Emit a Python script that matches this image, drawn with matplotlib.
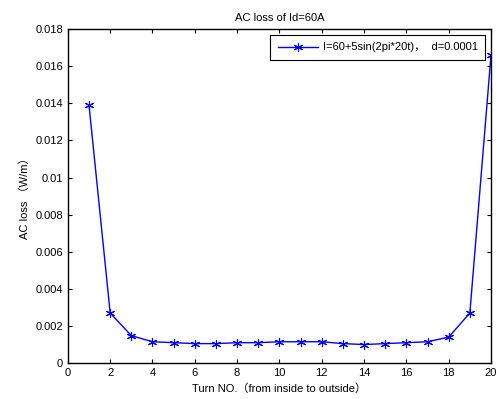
import numpy as np
import matplotlib
matplotlib.use("Agg")
from matplotlib import pyplot as plt

plt.rcParams['font.family'] = ['Liberation Sans', 'Noto Sans CJK SC', 'DejaVu Sans']
plt.rcParams['font.size'] = 8

turns = np.arange(1, 21)
loss = [0.0139, 0.0027, 0.00148, 0.00115, 0.0011, 0.00105, 0.00105, 0.0011, 0.0011, 0.00115,
        0.00115, 0.00115, 0.00105, 0.001, 0.00105, 0.0011, 0.00115, 0.0014, 0.0027, 0.0166]
series_label = 'I=60+5sin(2pi*20t)，  d=0.0001'
x_ticks = np.arange(0, 21, 2)
y_ticks = np.arange(0, 0.0181, 0.002)

fig = plt.figure(figsize=(4.99, 3.99), dpi=100)
ax = fig.add_axes([0.136, 0.090, 0.848, 0.837])

ax.plot(turns, loss, color='blue', linewidth=1, marker=(6, 2, 0), markersize=6.5,
        markeredgewidth=0.8, label=series_label)

ax.set_xlim(0, 20)
ax.set_ylim(0, 0.018)
ax.set_xticks(x_ticks)
ax.set_yticks(y_ticks)
ax.set_yticklabels(['0' if v == 0 else ('%g' % round(v, 4)) for v in y_ticks])
ax.tick_params(direction='in', top=True, right=True, length=3, width=0.8, labelsize=8)
for s in ax.spines.values():
    s.set_linewidth(1)

ax.set_title('AC loss of Id=60A', fontsize=8)
ax.set_xlabel('Turn NO.（from inside to outside）', fontsize=8)
ax.set_ylabel('AC loss （W/m）', fontsize=8)

leg = ax.legend(loc='upper right', fancybox=False, edgecolor='black', framealpha=1,
                borderaxespad=0.5, borderpad=0.7, handlelength=3.6, handletextpad=0.4,
                fontsize=8)
leg.get_frame().set_linewidth(0.8)

fig.savefig('out.png', dpi=100)
